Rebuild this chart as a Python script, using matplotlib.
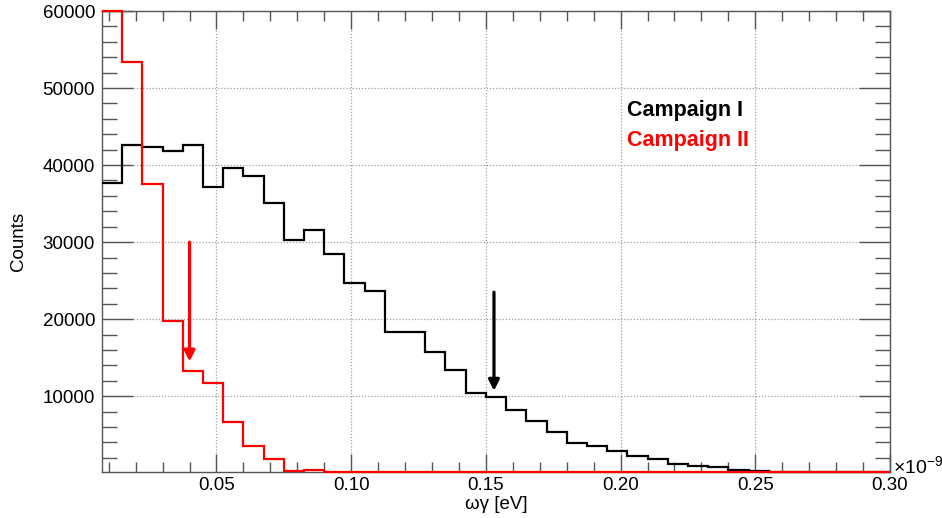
import numpy as np
import matplotlib
matplotlib.use("Agg")
import matplotlib.pyplot as plt
from matplotlib.ticker import MultipleLocator, FuncFormatter

plt.rcParams['font.family'] = ['Liberation Sans', 'DejaVu Sans']
plt.rcParams['mathtext.fontset'] = 'custom'
plt.rcParams['mathtext.rm'] = 'Liberation Sans'
plt.rcParams['mathtext.it'] = 'Liberation Sans:italic'

# Histogram binning (units of 1e-9 eV)
bin_width = 0.0075
x_low, x_high = 0.0075, 0.30

# Counts per bin, first bin starting at x_low
campaign1 = [37700, 42600, 42300, 41800, 42600, 37100, 39600, 38600, 35100, 30300,
             31600, 28400, 24700, 23600, 18300, 18300, 15700, 13400, 10400, 9850,
             8200, 6750, 5400, 3900, 3600, 2950, 2200, 1800, 1200, 920,
             750, 480, 350, 0, 0, 0, 0, 0, 0]
campaign2 = [64000, 53400, 37500, 19700, 13250, 11750, 6650, 3500, 1850, 350,
             480, 0, 0, 0, 0, 0, 0, 0, 0, 0,
             0, 0, 0, 0, 0, 0, 0, 0, 0, 0,
             0, 0, 0, 0, 0, 0, 0, 0, 0]

# Marker arrows: (x, y_start, y_end)
arrow1 = (0.153, 23500, 10700)
arrow2 = (0.040, 30000, 14500)

labels = ["Campaign I", "Campaign II"]
colors = ["#000000", "#ff0000"]

y_low, y_high = 200, 60000

edges = x_low + bin_width * np.arange(len(campaign1) + 1)

fig = plt.figure(figsize=(9.42, 5.18), dpi=100)
ax = fig.add_axes([102 / 942, 1 - 471.7 / 518, (890 - 102) / 942, (471.7 - 11) / 518])

for vals, col in zip([campaign1, campaign2], colors):
    v = np.clip(np.asarray(vals, float), y_low, y_high)
    ax.stairs(v, edges, baseline=None, color=col, lw=1.6, clip_on=False, zorder=3)

for (ax_x, y0, y1), col in zip([arrow1, arrow2], colors):
    ax.annotate('', xy=(ax_x, y1), xytext=(ax_x, y0),
                arrowprops=dict(arrowstyle='-|>', color=col, lw=2.3,
                                mutation_scale=16, shrinkA=0, shrinkB=0),
                zorder=4)

ax.set_xlim(x_low, x_high)
ax.set_ylim(y_low, y_high)

ax.xaxis.set_major_locator(MultipleLocator(0.05))
ax.xaxis.set_minor_locator(MultipleLocator(0.01))
ax.yaxis.set_major_locator(MultipleLocator(10000))
ax.yaxis.set_minor_locator(MultipleLocator(2000))
ax.xaxis.set_major_formatter(FuncFormatter(lambda v, p: f"{v:.2f}"))
ax.yaxis.set_major_formatter(FuncFormatter(lambda v, p: f"{int(round(v))}"))

frame_col = "#555555"
for s in ax.spines.values():
    s.set_color(frame_col)
    s.set_linewidth(1.0)
ax.tick_params(which='both', direction='in', top=True, right=True,
               color=frame_col, labelsize=13.5, width=1.0)
ax.tick_params(axis='x', which='major', length=13, pad=4)
ax.tick_params(axis='x', which='minor', length=7)
ax.tick_params(axis='y', which='major', length=22, pad=5)
ax.tick_params(axis='y', which='minor', length=11)

ax.grid(True, which='major', color='#a0a0a0', linestyle=(0, (1, 1.5)), lw=0.9)
ax.set_axisbelow(True)

ax.set_xlabel("ωγ [eV]", fontsize=13.5)
ax.xaxis.set_label_coords(0.5, -0.052)
ax.xaxis.label.set_va('top')
ax.set_ylabel("Counts", fontsize=13.5)
ax.yaxis.set_label_coords(-0.106, 0.5)
ax.yaxis.label.set_va('center')

fig.text(893 / 942, 1 - 466 / 518, r"$\times10^{-9}$", fontsize=14,
         ha='left', va='center')

ax.text(0.2022, 46430, labels[0], color=colors[0], fontsize=15.5,
        fontweight='bold', ha='left', va='baseline')
ax.text(0.2022, 42500, labels[1], color=colors[1], fontsize=15.5,
        fontweight='bold', ha='left', va='baseline')

fig.savefig("out.png", dpi=100)
